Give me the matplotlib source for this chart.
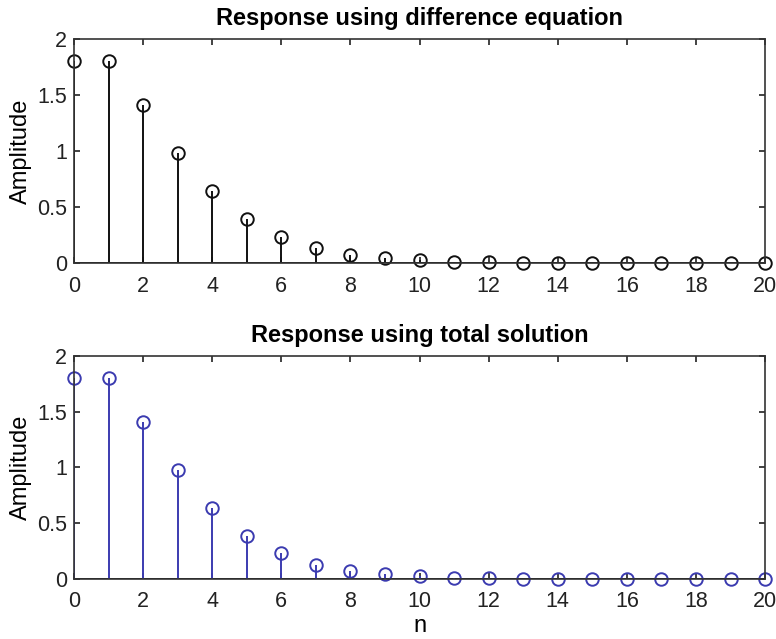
import matplotlib
matplotlib.use("Agg")
import matplotlib.pyplot as plt
import numpy as np

plt.rcParams['font.family'] = ['Liberation Sans', 'DejaVu Sans']

n = np.arange(0, 21)
y_diff = [1.80, 1.80, 1.41, 0.98, 0.64, 0.39, 0.23, 0.13, 0.075, 0.045,
          0.025, 0.013, 0.007, 0.004, 0.002, 0.001, 0.0006, 0.0003, 0.0002,
          0.0001, 0.00005]
y_total = [1.80, 1.80, 1.41, 0.98, 0.64, 0.39, 0.23, 0.13, 0.075, 0.045,
           0.025, 0.013, 0.007, 0.004, 0.002, 0.001, 0.0006, 0.0003, 0.0002,
           0.0001, 0.00005]

titles = ["Response using difference equation", "Response using total solution"]
colors = ["#111111", "#3b3bb0"]

fig = plt.figure(figsize=(7.76, 6.39), dpi=100)
ax1 = fig.add_axes([0.0954, 0.5884, 0.8905, 0.3505])
ax2 = fig.add_axes([0.0954, 0.0939, 0.8905, 0.3490])

for ax, yv, title, c in zip([ax1, ax2], [y_diff, y_total], titles, colors):
    ml, sl, bl = ax.stem(n, yv, basefmt=" ")
    plt.setp(sl, color=c, linewidth=1.4)
    plt.setp(ml, color=c, markerfacecolor='none', markeredgecolor=c,
             markersize=9, markeredgewidth=1.4, clip_on=False)
    ax.axhline(0, color="#111111", linewidth=1.4, zorder=1)
    ax.set_xlim(0, 20)
    ax.set_ylim(0, 2)
    ax.set_xticks(np.arange(0, 21, 2))
    ax.set_yticks([0, 0.5, 1, 1.5, 2])
    ax.set_yticklabels(["0", "0.5", "1", "1.5", "2"])
    ax.tick_params(direction='in', top=True, right=True, length=4,
                   width=1.2, labelsize=15.5, colors="#222222")
    ax.tick_params(axis='x', pad=9)
    ax.tick_params(axis='y', pad=5)
    for s in ax.spines.values():
        s.set_linewidth(1.2)
        s.set_color("#333333")
    ax.set_ylabel("Amplitude", fontsize=17, labelpad=4)
    ax.set_title(title, fontsize=17, fontweight='bold', pad=10)

ax2.set_xlabel("n", fontsize=17, labelpad=2)

fig.savefig("out.png", dpi=100)
